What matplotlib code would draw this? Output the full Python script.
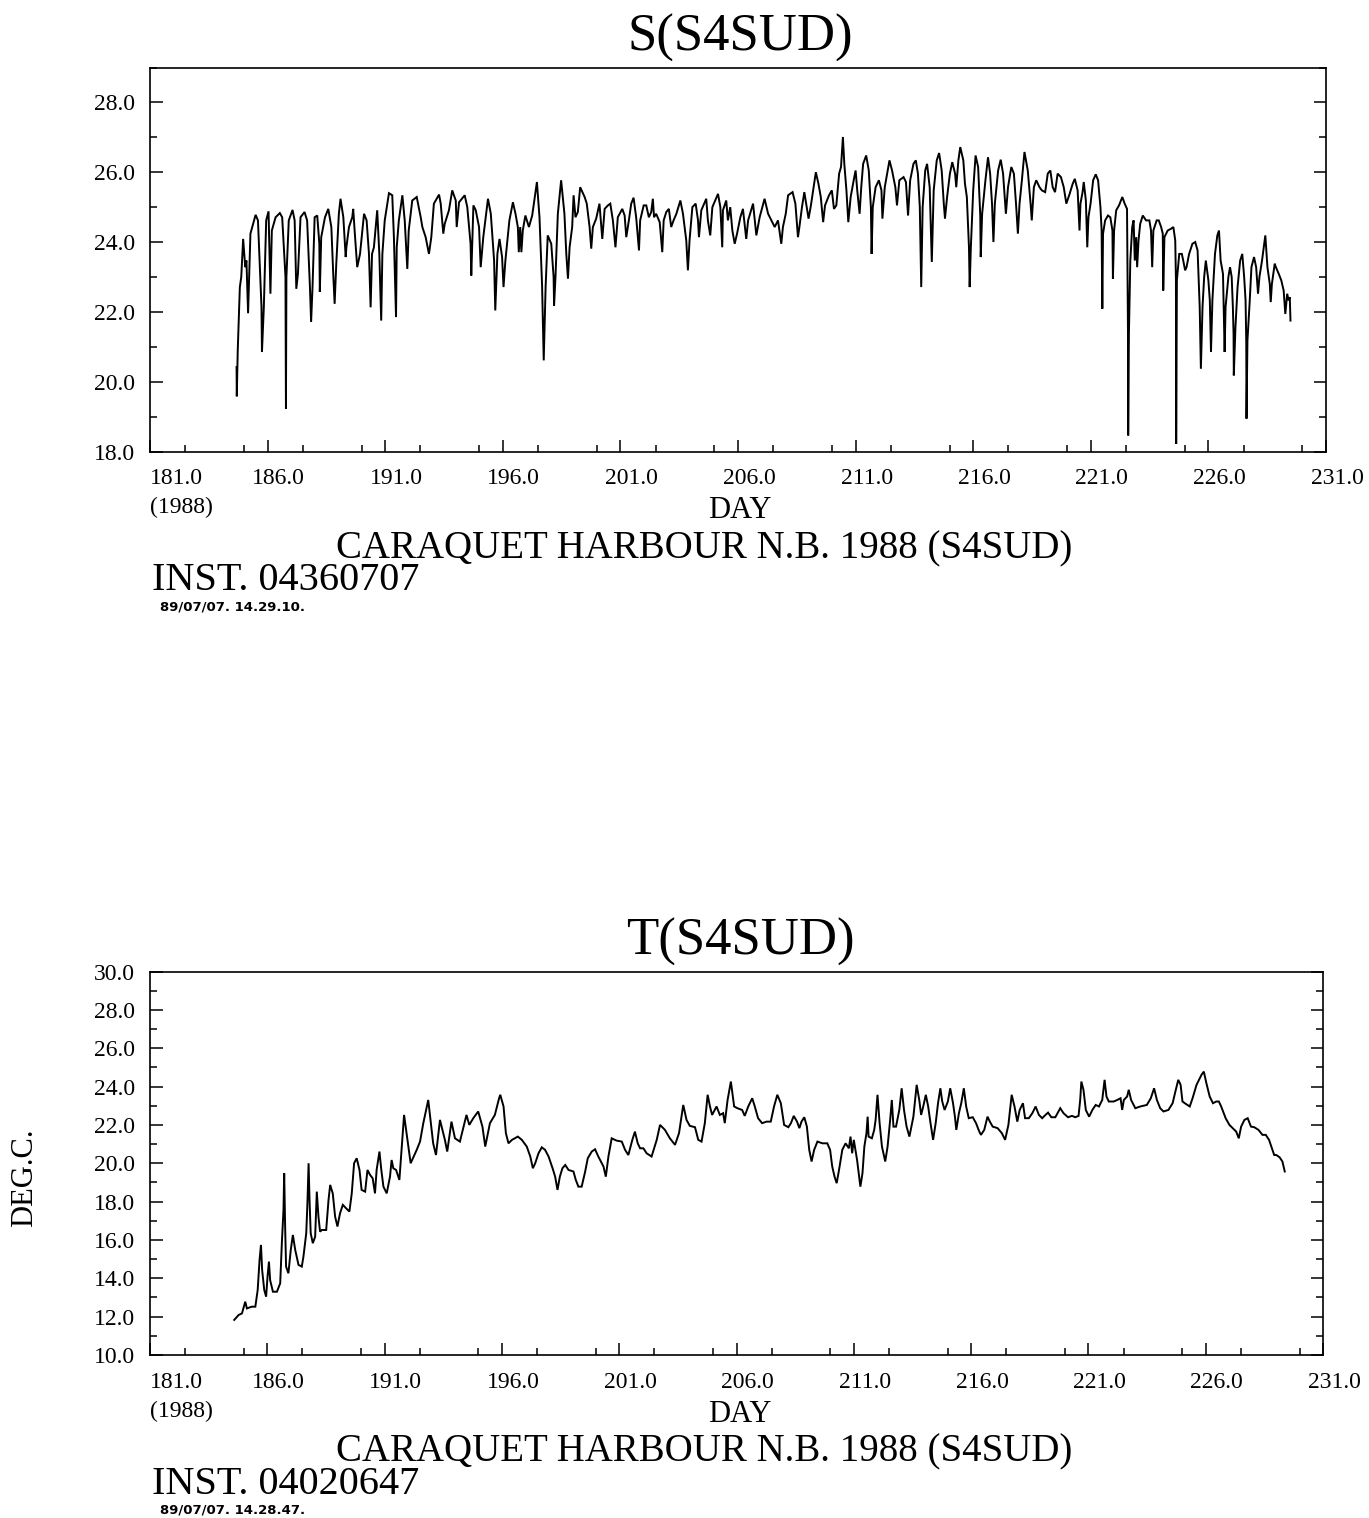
import matplotlib
matplotlib.use("Agg")
import matplotlib.pyplot as plt
from matplotlib.ticker import MultipleLocator

W, H, DPI = 1369, 1518, 100
SERIF = "Liberation Serif"

# Salinity record, station S4SUD (day of year, salinity)
S_DAY = [184.68, 184.69, 184.73, 184.82, 184.88, 184.96, 185.05, 185.10, 185.17, 185.27,
         185.49, 185.59, 185.74, 185.76, 185.84, 185.94, 186.04, 186.12, 186.18, 186.34,
         186.52, 186.62, 186.76, 186.78, 186.80, 186.90, 187.06, 187.15, 187.22, 187.29,
         187.40, 187.57, 187.68, 187.80, 187.85, 187.91, 188.00, 188.11, 188.20, 188.22,
         188.28, 188.44, 188.58, 188.71, 188.79, 188.85, 188.92, 189.03, 189.10, 189.22,
         189.32, 189.35, 189.46, 189.60, 189.64, 189.70, 189.81, 189.93, 190.10, 190.21,
         190.31, 190.38, 190.44, 190.52, 190.66, 190.75, 190.83, 190.88, 190.98, 191.16,
         191.30, 191.37, 191.46, 191.49, 191.58, 191.73, 191.83, 191.94, 192.00, 192.15,
         192.34, 192.51, 192.58, 192.72, 192.86, 192.96, 193.07, 193.29, 193.36, 193.47,
         193.53, 193.71, 193.85, 194.00, 194.04, 194.14, 194.38, 194.49, 194.63, 194.66,
         194.75, 194.85, 194.99, 195.06, 195.17, 195.37, 195.49, 195.63, 195.68, 195.77,
         195.86, 195.97, 196.03, 196.11, 196.28, 196.43, 196.54, 196.64, 196.68, 196.74,
         196.79, 196.85, 196.96, 197.11, 197.25, 197.45, 197.56, 197.67, 197.74, 197.82,
         197.91, 198.06, 198.16, 198.18, 198.24, 198.34, 198.48, 198.62, 198.70, 198.77,
         198.84, 198.95, 199.01, 199.09, 199.19, 199.29, 199.48, 199.57, 199.69, 199.76,
         199.83, 199.97, 200.11, 200.23, 200.33, 200.47, 200.57, 200.68, 200.79, 200.89,
         201.08, 201.18, 201.25, 201.36, 201.46, 201.56, 201.67, 201.79, 201.84, 201.99,
         202.10, 202.21, 202.31, 202.38, 202.43, 202.52, 202.67, 202.78, 202.84, 202.95,
         203.06, 203.16, 203.26, 203.38, 203.55, 203.66, 203.80, 203.87, 203.94, 204.06,
         204.20, 204.30, 204.34, 204.44, 204.65, 204.72, 204.82, 204.91, 205.15, 205.25,
         205.33, 205.36, 205.50, 205.57, 205.67, 205.76, 205.86, 205.96, 206.10, 206.21,
         206.35, 206.43, 206.64, 206.78, 206.92, 207.13, 207.28, 207.42, 207.56, 207.70,
         207.84, 207.91, 208.03, 208.13, 208.32, 208.44, 208.55, 208.61, 208.72, 208.82,
         208.92, 209.00, 209.10, 209.31, 209.42, 209.52, 209.62, 209.70, 209.87, 209.99,
         210.08, 210.18, 210.30, 210.38, 210.46, 210.52, 210.61, 210.69, 210.79, 210.93,
         211.00, 211.07, 211.17, 211.24, 211.32, 211.45, 211.56, 211.65, 211.68, 211.73,
         211.85, 211.99, 212.10, 212.14, 212.24, 212.44, 212.55, 212.69, 212.76, 212.86,
         213.04, 213.14, 213.23, 213.32, 213.46, 213.56, 213.65, 213.73, 213.79, 213.85,
         213.96, 214.04, 214.15, 214.24, 214.32, 214.45, 214.55, 214.66, 214.75, 214.80,
         214.89, 215.01, 215.11, 215.23, 215.28, 215.37, 215.45, 215.58, 215.65, 215.73,
         215.82, 215.85, 215.90, 216.00, 216.10, 216.21, 216.30, 216.32, 216.38, 216.52,
         216.63, 216.72, 216.80, 216.86, 216.92, 217.06, 217.17, 217.27, 217.34, 217.39,
         217.48, 217.62, 217.73, 217.82, 217.90, 217.97, 218.07, 218.18, 218.32, 218.44,
         218.49, 218.58, 218.68, 218.82, 218.92, 219.06, 219.17, 219.28, 219.38, 219.48,
         219.59, 219.73, 219.85, 219.96, 220.10, 220.23, 220.32, 220.44, 220.52, 220.56,
         220.65, 220.70, 220.79, 220.85, 220.90, 220.99, 221.10, 221.21, 221.31, 221.41,
         221.46, 221.49, 221.52, 221.61, 221.73, 221.83, 221.92, 221.94, 221.99, 222.08,
         222.20, 222.34, 222.44, 222.54, 222.58, 222.59, 222.62, 222.68, 222.76, 222.82,
         222.87, 222.93, 222.97, 223.03, 223.10, 223.21, 223.35, 223.49, 223.56, 223.61,
         223.66, 223.80, 223.89, 223.99, 224.06, 224.08, 224.13, 224.27, 224.41, 224.51,
         224.59, 224.62, 224.63, 224.66, 224.76, 224.87, 224.93, 225.01, 225.07, 225.18,
         225.32, 225.44, 225.54, 225.63, 225.68, 225.75, 225.82, 225.89, 226.00, 226.06,
         226.11, 226.17, 226.28, 226.38, 226.45, 226.52, 226.62, 226.66, 226.69, 226.73,
         226.85, 226.92, 226.99, 227.04, 227.07, 227.08, 227.15, 227.24, 227.35, 227.44,
         227.52, 227.58, 227.61, 227.62, 227.66, 227.75, 227.83, 227.94, 228.03, 228.11,
         228.17, 228.28, 228.42, 228.51, 228.61, 228.65, 228.70, 228.82, 228.87, 228.99,
         229.10, 229.20, 229.27, 229.35, 229.41, 229.46, 229.49]
S_VAL = [20.42, 19.58, 20.89, 22.71, 23.00, 24.09, 23.28, 23.47, 21.96, 24.24,
         24.78, 24.62, 22.14, 20.85, 22.14, 24.62, 24.88, 22.52, 24.33, 24.71,
         24.83, 24.71, 23.00, 19.22, 23.00, 24.62, 24.92, 24.62, 22.66, 23.09,
         24.71, 24.86, 24.62, 22.71, 21.71, 22.71, 24.71, 24.76, 23.95, 22.57,
         24.14, 24.71, 24.95, 24.43, 23.09, 22.23, 23.38, 24.81, 25.24, 24.71,
         23.57, 23.85, 24.43, 24.71, 24.95, 24.33, 23.28, 23.66, 24.81, 24.62,
         23.66, 22.13, 23.66, 23.85, 24.91, 23.66, 21.75, 23.66, 24.62, 25.40,
         25.34, 24.14, 21.85, 23.85, 24.62, 25.34, 24.62, 23.23, 24.33, 25.19,
         25.29, 24.71, 24.43, 24.14, 23.66, 24.14, 25.10, 25.36, 25.10, 24.24,
         24.52, 24.91, 25.48, 25.19, 24.43, 25.14, 25.34, 25.00, 23.95, 23.04,
         25.05, 24.91, 24.43, 23.28, 24.14, 25.24, 24.81, 23.47, 22.04, 23.66,
         24.09, 23.57, 22.71, 23.47, 24.62, 25.14, 24.81, 24.43, 23.71, 24.43,
         23.71, 24.33, 24.76, 24.43, 24.76, 25.72, 24.71, 22.76, 20.61, 22.71,
         24.19, 23.95, 23.00, 22.18, 23.00, 24.81, 25.77, 24.81, 23.66, 22.95,
         23.85, 24.43, 25.34, 24.71, 24.86, 25.57, 25.29, 25.10, 24.43, 23.81,
         24.43, 24.67, 25.10, 24.09, 24.95, 25.05, 25.10, 24.62, 23.85, 24.71,
         24.95, 24.76, 24.14, 24.62, 25.10, 25.27, 24.71, 23.76, 24.62, 25.05,
         25.05, 24.71, 24.86, 25.24, 24.71, 24.81, 24.57, 23.71, 24.62, 24.86,
         24.95, 24.43, 24.62, 24.81, 25.19, 24.81, 24.05, 23.19, 24.05, 25.00,
         25.10, 24.62, 24.14, 24.91, 25.24, 24.62, 24.19, 25.00, 25.38, 25.00,
         23.85, 24.91, 25.19, 24.62, 25.00, 24.33, 23.95, 24.24, 24.71, 24.95,
         24.09, 24.62, 25.10, 24.19, 24.71, 25.24, 24.81, 24.62, 24.43, 24.62,
         23.95, 24.43, 24.81, 25.34, 25.43, 25.10, 24.14, 24.43, 25.00, 25.43,
         25.00, 24.67, 25.05, 26.00, 25.67, 25.29, 24.57, 25.05, 25.34, 25.48,
         24.95, 25.05, 25.96, 26.15, 27.01, 26.24, 25.48, 24.57, 25.29, 25.81,
         26.05, 25.48, 24.81, 25.57, 26.24, 26.48, 26.05, 25.00, 23.66, 25.00,
         25.57, 25.77, 25.48, 24.67, 25.57, 26.34, 26.05, 25.57, 25.05, 25.77,
         25.86, 25.72, 24.76, 25.77, 26.24, 26.34, 25.96, 25.00, 22.71, 25.00,
         26.05, 26.24, 25.57, 23.43, 25.48, 26.34, 26.55, 26.05, 25.10, 24.67,
         25.29, 25.96, 26.29, 25.96, 25.57, 26.34, 26.72, 26.34, 25.67, 25.29,
         23.85, 22.71, 23.85, 25.48, 26.48, 26.15, 24.76, 23.57, 24.81, 25.77,
         26.43, 25.96, 25.10, 24.00, 25.10, 26.05, 26.36, 25.96, 25.29, 24.81,
         25.57, 26.15, 25.96, 25.10, 24.24, 25.10, 25.77, 26.58, 26.05, 25.10,
         24.62, 25.57, 25.77, 25.57, 25.48, 25.43, 25.96, 26.05, 25.57, 25.43,
         25.96, 25.86, 25.57, 25.10, 25.38, 25.67, 25.81, 25.48, 24.33, 25.10,
         25.43, 25.72, 25.19, 23.85, 24.71, 25.10, 25.77, 25.94, 25.77, 25.00,
         24.33, 22.09, 24.24, 24.62, 24.76, 24.71, 24.33, 22.95, 24.33, 24.91,
         25.05, 25.29, 25.10, 24.95, 21.47, 18.46, 21.37, 23.47, 24.43, 24.62,
         23.47, 24.14, 23.28, 24.05, 24.52, 24.76, 24.62, 24.62, 24.33, 23.28,
         24.33, 24.62, 24.62, 24.43, 24.24, 22.61, 24.14, 24.33, 24.38, 24.43,
         24.05, 22.90, 18.22, 22.90, 23.66, 23.66, 23.47, 23.19, 23.28, 23.66,
         23.95, 24.00, 23.76, 22.14, 20.37, 22.14, 23.00, 23.47, 22.90, 22.33,
         20.85, 22.33, 23.66, 24.19, 24.33, 23.47, 23.09, 21.75, 20.85, 22.14,
         23.00, 23.28, 23.00, 22.14, 21.37, 20.18, 21.56, 22.71, 23.47, 23.66,
         23.00, 22.33, 21.13, 18.94, 21.18, 22.23, 23.28, 23.57, 23.28, 22.52,
         23.00, 23.47, 24.19, 23.28, 22.80, 22.28, 22.80, 23.38, 23.28, 23.09,
         22.90, 22.61, 21.94, 22.52, 22.33, 22.42, 21.75]

# Temperature record, station S4SUD (day of year, deg C)
T_DAY = [184.59, 184.78, 184.92, 185.06, 185.13, 185.34, 185.49, 185.59, 185.67, 185.73,
         185.78, 185.87, 185.95, 186.01, 186.07, 186.12, 186.24, 186.41, 186.55, 186.62,
         186.69, 186.72, 186.76, 186.80, 186.90, 187.00, 187.09, 187.19, 187.33, 187.47,
         187.54, 187.66, 187.71, 187.76, 187.80, 187.85, 187.94, 188.04, 188.11, 188.18,
         188.25, 188.32, 188.51, 188.61, 188.68, 188.79, 188.89, 188.99, 189.10, 189.22,
         189.36, 189.50, 189.60, 189.70, 189.81, 189.93, 190.02, 190.17, 190.27, 190.38,
         190.49, 190.59, 190.66, 190.78, 190.86, 190.95, 191.09, 191.23, 191.30, 191.37,
         191.49, 191.63, 191.83, 192.11, 192.37, 192.51, 192.65, 192.86, 193.07, 193.19,
         193.36, 193.57, 193.67, 193.85, 194.00, 194.21, 194.49, 194.61, 194.78, 194.99,
         195.17, 195.29, 195.49, 195.70, 195.88, 195.93, 196.07, 196.17, 196.28, 196.43,
         196.68, 196.85, 197.06, 197.21, 197.32, 197.42, 197.56, 197.70, 197.84, 197.99,
         198.16, 198.27, 198.37, 198.47, 198.58, 198.70, 198.84, 199.05, 199.15, 199.26,
         199.40, 199.55, 199.66, 199.83, 199.97, 200.11, 200.33, 200.43, 200.54, 200.68,
         200.89, 201.11, 201.25, 201.39, 201.56, 201.67, 201.79, 201.89, 202.03, 202.17,
         202.38, 202.60, 202.74, 202.95, 203.16, 203.38, 203.55, 203.73, 203.87, 204.01,
         204.23, 204.37, 204.51, 204.65, 204.77, 204.87, 204.96, 205.15, 205.29, 205.43,
         205.50, 205.62, 205.76, 205.90, 206.04, 206.24, 206.35, 206.50, 206.67, 206.78,
         206.92, 207.09, 207.28, 207.46, 207.60, 207.74, 207.89, 208.03, 208.21, 208.32,
         208.44, 208.58, 208.68, 208.77, 208.89, 209.00, 209.10, 209.20, 209.31, 209.45,
         209.66, 209.87, 209.99, 210.08, 210.18, 210.27, 210.37, 210.51, 210.65, 210.79,
         210.86, 210.93, 211.00, 211.07, 211.14, 211.21, 211.28, 211.37, 211.45, 211.54,
         211.59, 211.63, 211.77, 211.87, 211.93, 212.01, 212.10, 212.20, 212.34, 212.44,
         212.55, 212.62, 212.69, 212.80, 212.94, 213.04, 213.14, 213.25, 213.37, 213.54,
         213.68, 213.79, 213.87, 213.96, 214.07, 214.17, 214.27, 214.38, 214.49, 214.59,
         214.69, 214.77, 214.87, 215.01, 215.11, 215.23, 215.31, 215.37, 215.48, 215.58,
         215.69, 215.79, 215.90, 216.07, 216.21, 216.35, 216.42, 216.56, 216.70, 216.80,
         216.92, 217.13, 217.31, 217.45, 217.59, 217.73, 217.85, 217.97, 218.07, 218.21,
         218.30, 218.46, 218.61, 218.75, 218.89, 219.03, 219.17, 219.28, 219.42, 219.59,
         219.80, 219.94, 220.13, 220.30, 220.44, 220.58, 220.65, 220.70, 220.79, 220.89,
         221.03, 221.17, 221.31, 221.45, 221.59, 221.69, 221.77, 221.87, 222.08, 222.23,
         222.37, 222.44, 222.51, 222.65, 222.72, 222.82, 222.93, 223.00, 223.21, 223.49,
         223.66, 223.80, 223.92, 224.06, 224.20, 224.41, 224.59, 224.69, 224.83, 224.93,
         225.01, 225.11, 225.32, 225.44, 225.61, 225.82, 225.92, 226.03, 226.17, 226.31,
         226.45, 226.56, 226.66, 226.85, 227.01, 227.15, 227.30, 227.41, 227.51, 227.65,
         227.79, 227.93, 228.07, 228.25, 228.42, 228.56, 228.70, 228.82, 228.92, 229.01,
         229.15, 229.27, 229.37]
T_VAL = [11.83, 12.09, 12.17, 12.78, 12.43, 12.52, 12.52, 13.39, 14.96, 15.74,
         14.43, 13.39, 13.04, 14.09, 14.87, 13.91, 13.30, 13.30, 13.74, 15.83,
         17.57, 19.48, 16.70, 14.61, 14.26, 15.48, 16.26, 15.48, 14.70, 14.61,
         15.13, 16.35, 17.91, 20.00, 18.09, 16.35, 15.83, 16.17, 18.52, 17.22,
         16.43, 16.52, 16.52, 18.09, 18.87, 18.43, 17.22, 16.70, 17.39, 17.83,
         17.65, 17.48, 18.43, 20.00, 20.26, 19.65, 18.61, 18.52, 19.65, 19.39,
         19.22, 18.43, 19.65, 20.61, 19.65, 18.78, 18.43, 19.30, 20.17, 19.74,
         19.65, 19.13, 22.52, 20.00, 20.70, 21.13, 22.09, 23.30, 21.04, 20.43,
         22.26, 21.22, 20.61, 22.17, 21.30, 21.13, 22.52, 22.00, 22.35, 22.70,
         21.91, 20.87, 22.09, 22.52, 23.39, 23.57, 22.96, 21.57, 21.04, 21.22,
         21.39, 21.22, 20.87, 20.35, 19.74, 20.00, 20.52, 20.83, 20.70, 20.35,
         19.74, 19.30, 18.61, 19.30, 19.74, 19.91, 19.65, 19.57, 19.13, 18.78,
         18.78, 19.57, 20.26, 20.61, 20.73, 20.35, 19.83, 19.30, 20.35, 21.30,
         21.18, 21.13, 20.70, 20.43, 21.22, 21.65, 21.04, 20.78, 20.78, 20.52,
         20.35, 21.22, 22.00, 21.74, 21.30, 20.96, 21.57, 23.04, 22.26, 21.95,
         21.88, 21.22, 21.13, 22.09, 23.57, 22.96, 22.52, 22.96, 22.52, 22.61,
         22.09, 23.30, 24.26, 22.96, 22.87, 22.78, 22.47, 22.96, 23.39, 22.96,
         22.35, 22.09, 22.17, 22.17, 22.96, 23.57, 23.13, 22.00, 21.88, 22.09,
         22.47, 22.17, 21.83, 22.17, 22.40, 21.91, 20.70, 20.09, 20.70, 21.13,
         21.04, 21.04, 20.70, 19.83, 19.30, 18.96, 19.65, 20.70, 21.04, 20.78,
         21.39, 20.52, 21.22, 20.70, 20.17, 19.48, 18.78, 19.48, 20.87, 21.57,
         22.43, 21.39, 21.30, 21.74, 22.26, 23.57, 22.09, 20.87, 20.09, 20.87,
         22.26, 23.30, 21.91, 21.91, 22.78, 23.91, 22.78, 21.91, 21.39, 22.43,
         24.09, 23.30, 22.52, 22.96, 23.57, 22.96, 22.09, 21.22, 22.09, 23.13,
         23.91, 23.22, 22.78, 23.22, 23.91, 23.13, 22.43, 21.74, 22.61, 23.13,
         23.91, 22.96, 22.35, 22.40, 22.09, 21.65, 21.48, 21.74, 22.43, 22.17,
         21.91, 21.83, 21.57, 21.22, 22.00, 23.57, 22.96, 22.17, 22.78, 23.13,
         22.35, 22.35, 22.61, 22.96, 22.52, 22.35, 22.52, 22.64, 22.40, 22.40,
         22.87, 22.61, 22.40, 22.47, 22.40, 22.47, 23.30, 24.26, 23.83, 22.78,
         22.43, 22.78, 23.04, 22.96, 23.30, 24.35, 23.48, 23.22, 23.22, 23.30,
         23.39, 22.78, 23.30, 23.48, 23.83, 23.30, 23.04, 22.87, 22.96, 23.04,
         23.39, 23.91, 23.30, 22.87, 22.70, 22.78, 23.13, 23.65, 24.35, 24.09,
         23.22, 23.13, 22.96, 23.39, 24.09, 24.61, 24.78, 24.17, 23.48, 23.13,
         23.22, 23.22, 22.96, 22.35, 22.00, 21.83, 21.65, 21.30, 21.91, 22.26,
         22.35, 21.91, 21.88, 21.74, 21.48, 21.48, 21.22, 20.78, 20.43, 20.43,
         20.31, 20.09, 19.57]

X_TICKS = [181.0, 186.0, 191.0, 196.0, 201.0, 206.0, 211.0, 216.0, 221.0, 226.0, 231.0]
X_LABELS = ["181.0", "186.0", "191.0", "196.0", "201.0", "206.0",
            "211.0", "216.0", "221.0", "226.0", "231.0"]
S_YTICKS = [18.0, 20.0, 22.0, 24.0, 26.0, 28.0]
T_YTICKS = [10.0, 12.0, 14.0, 16.0, 18.0, 20.0, 22.0, 24.0, 26.0, 28.0, 30.0]

PT = 72.0 / DPI  # points per pixel


def box(left, top, right, bottom):
    return [left / W, 1 - bottom / H, (right - left) / W, (bottom - top) / H]


def fy(y):
    return 1 - y / H


def panel(rect, days, vals, ylim, yticks, title, station, inst, stamp):
    ax = fig.add_axes(rect)
    ax.plot(days, vals, color="black", lw=1.4, solid_joinstyle="miter")
    ax.set_xlim(181, 231)
    ax.set_ylim(*ylim)
    ax.set_xticks(X_TICKS)
    ax.set_xticklabels([])
    ax.xaxis.set_minor_locator(MultipleLocator(2.5))
    ax.set_yticks(yticks)
    ax.set_yticklabels([f"{v:.1f}" for v in yticks], fontfamily=SERIF, fontsize=17)
    ax.yaxis.set_minor_locator(MultipleLocator(1))
    ax.tick_params(which="both", direction="in", top=False, right=True,
                   width=1.1, color="black")
    ax.tick_params(which="major", length=9)
    ax.tick_params(which="minor", length=5)
    ax.tick_params(axis="y", which="major", pad=11)
    for sp in ax.spines.values():
        sp.set_linewidth(1.2)

    # day labels under the axis, shifted slightly right of their ticks
    for i, (x, lab) in enumerate(zip(X_TICKS, X_LABELS)):
        if i == 0:
            ax.annotate(lab, xy=(x, 0), xycoords=("data", "axes fraction"),
                        xytext=(0, -27 * PT), textcoords="offset points",
                        ha="left", va="center", fontfamily=SERIF, fontsize=17)
        else:
            ax.annotate(lab, xy=(x, 0), xycoords=("data", "axes fraction"),
                        xytext=(11 * PT, -27 * PT), textcoords="offset points",
                        ha="center", va="center", fontfamily=SERIF, fontsize=17)
    ax.annotate("(1988)", xy=(181, 0), xycoords=("data", "axes fraction"),
                xytext=(0, -56 * PT), textcoords="offset points",
                ha="left", va="center", fontfamily=SERIF, fontsize=17)

    top = (1 - rect[1] - rect[3]) * H
    bottom = (1 - rect[1]) * H
    fig.text(740 / W, fy(top - 30), title, ha="center", va="center",
             fontfamily=SERIF, fontsize=38)
    fig.text(740 / W, fy(bottom + 59), "DAY", ha="center", va="center",
             fontfamily=SERIF, fontsize=22)
    fig.text(704 / W, fy(bottom + 97), station, ha="center", va="center",
             fontfamily=SERIF, fontsize=28)
    fig.text(152 / W, fy(bottom + 129), inst, ha="left", va="center",
             fontfamily=SERIF, fontsize=29)
    fig.text(160 / W, fy(bottom + 155), stamp, ha="left", va="center",
             fontfamily="DejaVu Sans", fontsize=9.5, fontweight="bold")
    return ax


fig = plt.figure(figsize=(W / DPI, H / DPI), dpi=DPI)
fig.patch.set_facecolor("white")

panel(box(150, 67.5, 1326, 451.5), S_DAY, S_VAL, (18, 29), S_YTICKS,
      "S(S4SUD)", "CARAQUET HARBOUR N.B. 1988 (S4SUD)",
      "INST. 04360707", "89/07/07. 14.29.10.")

panel(box(150, 971.5, 1323, 1355), T_DAY, T_VAL, (10, 30), T_YTICKS,
      "T(S4SUD)", "CARAQUET HARBOUR N.B. 1988 (S4SUD)",
      "INST. 04020647", "89/07/07. 14.28.47.")

fig.text(25 / W, fy(1178), "DEG.C.", rotation=90, ha="center", va="center",
         fontfamily=SERIF, fontsize=22)

fig.savefig("out.png", dpi=DPI)
